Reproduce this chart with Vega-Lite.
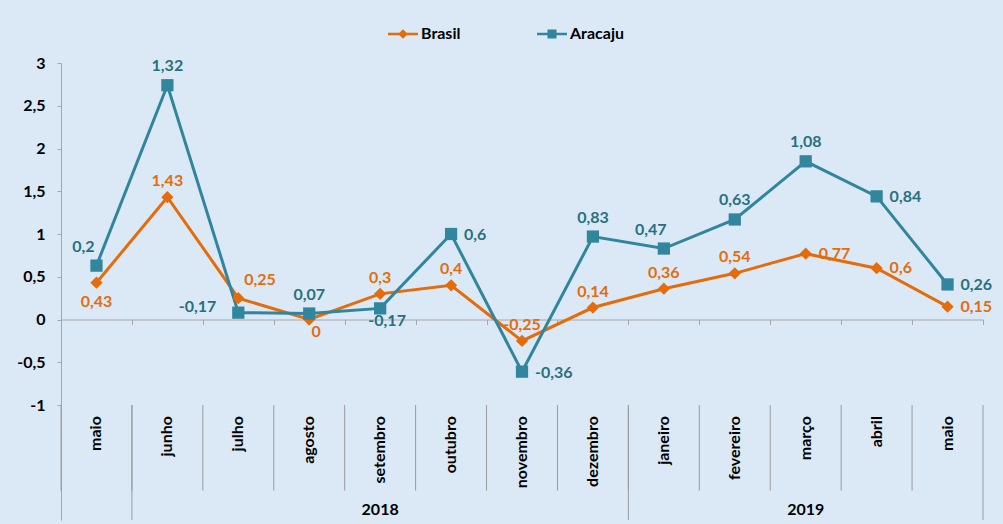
{
  "$schema": "https://vega.github.io/schema/vega-lite/v6.json",
  "width": 922,
  "height": 457,
  "autosize": {"type": "none"},
  "padding": {"left": 61, "top": 63, "right": 20, "bottom": 4},
  "background": "#dbe9f6",
  "config": {"view": {"stroke": null}, "font": "Lato", "text": {"font": "Lato", "fontSize": 16, "fontWeight": "bold"}},
  "datasets": {
    "d": [
      {"id": "2018-05", "mes": "maio", "ano": "2018", "serie": "Brasil", "valor": 0.43, "rotulo": "0,43"},
      {"id": "2018-06", "mes": "junho", "ano": "2018", "serie": "Brasil", "valor": 1.43, "rotulo": "1,43"},
      {"id": "2018-07", "mes": "julho", "ano": "2018", "serie": "Brasil", "valor": 0.25, "rotulo": "0,25"},
      {"id": "2018-08", "mes": "agosto", "ano": "2018", "serie": "Brasil", "valor": 0, "rotulo": "0"},
      {"id": "2018-09", "mes": "setembro", "ano": "2018", "serie": "Brasil", "valor": 0.3, "rotulo": "0,3"},
      {"id": "2018-10", "mes": "outubro", "ano": "2018", "serie": "Brasil", "valor": 0.4, "rotulo": "0,4"},
      {"id": "2018-11", "mes": "novembro", "ano": "2018", "serie": "Brasil", "valor": -0.25, "rotulo": "-0,25"},
      {"id": "2018-12", "mes": "dezembro", "ano": "2018", "serie": "Brasil", "valor": 0.14, "rotulo": "0,14"},
      {"id": "2019-01", "mes": "janeiro", "ano": "2019", "serie": "Brasil", "valor": 0.36, "rotulo": "0,36"},
      {"id": "2019-02", "mes": "fevereiro", "ano": "2019", "serie": "Brasil", "valor": 0.54, "rotulo": "0,54"},
      {"id": "2019-03", "mes": "março", "ano": "2019", "serie": "Brasil", "valor": 0.77, "rotulo": "0,77"},
      {"id": "2019-04", "mes": "abril", "ano": "2019", "serie": "Brasil", "valor": 0.6, "rotulo": "0,6"},
      {"id": "2019-05", "mes": "maio", "ano": "2019", "serie": "Brasil", "valor": 0.15, "rotulo": "0,15"},
      {"id": "2018-05", "mes": "maio", "ano": "2018", "serie": "Aracaju", "valor": 0.63, "rotulo": "0,2"},
      {"id": "2018-06", "mes": "junho", "ano": "2018", "serie": "Aracaju", "valor": 2.74, "rotulo": "1,32"},
      {"id": "2018-07", "mes": "julho", "ano": "2018", "serie": "Aracaju", "valor": 0.08, "rotulo": "-0,17"},
      {"id": "2018-08", "mes": "agosto", "ano": "2018", "serie": "Aracaju", "valor": 0.07, "rotulo": "0,07"},
      {"id": "2018-09", "mes": "setembro", "ano": "2018", "serie": "Aracaju", "valor": 0.13, "rotulo": "-0,17"},
      {"id": "2018-10", "mes": "outubro", "ano": "2018", "serie": "Aracaju", "valor": 1.0, "rotulo": "0,6"},
      {"id": "2018-11", "mes": "novembro", "ano": "2018", "serie": "Aracaju", "valor": -0.61, "rotulo": "-0,36"},
      {"id": "2018-12", "mes": "dezembro", "ano": "2018", "serie": "Aracaju", "valor": 0.97, "rotulo": "0,83"},
      {"id": "2019-01", "mes": "janeiro", "ano": "2019", "serie": "Aracaju", "valor": 0.83, "rotulo": "0,47"},
      {"id": "2019-02", "mes": "fevereiro", "ano": "2019", "serie": "Aracaju", "valor": 1.17, "rotulo": "0,63"},
      {"id": "2019-03", "mes": "março", "ano": "2019", "serie": "Aracaju", "valor": 1.85, "rotulo": "1,08"},
      {"id": "2019-04", "mes": "abril", "ano": "2019", "serie": "Aracaju", "valor": 1.44, "rotulo": "0,84"},
      {"id": "2019-05", "mes": "maio", "ano": "2019", "serie": "Aracaju", "valor": 0.41, "rotulo": "0,26"}
    ]
  },
  "data": {"name": "d"},
  "encoding": {
    "x": {"field": "id", "type": "nominal", "sort": null, "scale": {"type": "band", "paddingInner": 0, "paddingOuter": 0},
      "axis": {"orient": "bottom", "offset": -200.5, "labels": false, "title": null, "domainColor": "#a6a6a6", "tickColor": "#a6a6a6", "tickSize": 5, "tickBand": "extent", "grid": false}},
    "y": {"field": "valor", "type": "quantitative", "scale": {"domain": [-2.345, 3], "nice": false, "zero": false},
      "axis": {"title": null, "values": [-1, -0.5, 0, 0.5, 1, 1.5, 2, 2.5, 3], "labelExpr": "replace(replace(format(datum.value, '~g'), '.', ','), '−', '-')", "labelFont": "Lato", "labelFontSize": 16, "labelFontWeight": "bold", "labelColor": "#000000", "domainColor": "#a6a6a6", "tickColor": "#a6a6a6", "tickSize": 4, "labelPadding": 12, "grid": false}}
  },
  "layer": [
    {
      "transform": [{"filter": "datum.serie == 'Brasil'"}],
      "mark": {"type": "rule", "color": "#9a9a9a", "strokeWidth": 1},
      "encoding": {
        "x": {"field": "id", "type": "nominal", "sort": null, "bandPosition": 0},
        "y": {"datum": -1},
        "y2": {"datum": -2}
      }
    },
    {
      "transform": [{"filter": "datum.serie == 'Brasil' && (datum.id == '2018-06' || datum.id == '2019-01')"}],
      "mark": {"type": "rule", "color": "#9a9a9a", "strokeWidth": 1},
      "encoding": {
        "x": {"field": "id", "type": "nominal", "sort": null, "bandPosition": 0},
        "y": {"datum": -1},
        "y2": {"datum": -2.345}
      }
    },
    {
      "transform": [{"filter": "datum.serie == 'Brasil' && datum.id == '2019-05'"}],
      "mark": {"type": "rule", "color": "#9a9a9a", "strokeWidth": 1},
      "encoding": {
        "x": {"field": "id", "type": "nominal", "sort": null, "bandPosition": 1},
        "y": {"datum": -1},
        "y2": {"datum": -2.345}
      }
    },
    {
      "transform": [{"filter": "datum.serie == 'Brasil'"}],
      "mark": {"type": "text", "angle": 270, "align": "right", "baseline": "middle", "fontSize": 16, "fontWeight": "bold", "color": "#000000"},
      "encoding": {
        "y": {"datum": -1.13},
        "text": {"field": "mes"}
      }
    },
    {
      "transform": [{"filter": "datum.serie == 'Brasil' && (datum.id == '2018-09' || datum.id == '2019-03')"}],
      "mark": {"type": "text", "align": "center", "baseline": "middle", "fontSize": 16, "fontWeight": "bold", "color": "#000000"},
      "encoding": {
        "y": {"datum": -2.228},
        "text": {"field": "ano"}
      }
    },
    {
      "transform": [{"filter": "datum.serie == 'Brasil'"}],
      "mark": {"type": "line", "strokeWidth": 3, "color": "#E46C0A"},
      "encoding": {}
    },
    {
      "transform": [{"filter": "datum.serie == 'Aracaju'"}],
      "mark": {"type": "line", "strokeWidth": 3, "color": "#31859C"},
      "encoding": {}
    },
    {
      "transform": [{"filter": "datum.serie == 'Brasil'"}],
      "mark": {"type": "point", "shape": "diamond", "filled": true, "size": 150, "opacity": 1, "color": "#E46C0A"}
    },
    {
      "transform": [{"filter": "datum.serie == 'Aracaju'"}],
      "mark": {"type": "point", "shape": "square", "filled": true, "size": 150, "opacity": 1, "color": "#31859C"}
    },
    {
      "mark": {"type": "point", "filled": true, "opacity": 0},
      "encoding": {
        "color": {"field": "serie", "type": "nominal", "scale": {"domain": ["Brasil", "Aracaju"], "range": ["#E46C0A", "#31859C"]},
          "legend": {"orient": "none", "legendX": 327, "legendY": -44, "direction": "horizontal", "title": null, "symbolSize": 900, "symbolStrokeWidth": 0, "symbolOpacity": 1, "labelFont": "Lato", "labelFontSize": 16, "labelFontWeight": "bold", "labelColor": "#000000", "columnPadding": 76, "labelOffset": 3}},
        "shape": {"field": "serie", "type": "nominal",
          "scale": {"domain": ["Brasil", "Aracaju"], "range": ["M-1,-0.09H1V0.09H-1Z M-0.32,0L0,-0.32L0.32,0L0,0.32Z", "M-1,-0.09H1V0.09H-1Z M-0.3,-0.3H0.3V0.3H-0.3Z"]},
          "legend": {"orient": "none", "legendX": 327, "legendY": -44, "direction": "horizontal", "title": null, "symbolSize": 900, "symbolStrokeWidth": 0, "symbolOpacity": 1, "labelFont": "Lato", "labelFontSize": 16, "labelFontWeight": "bold", "labelColor": "#000000", "columnPadding": 76, "labelOffset": 3}}
      }
    },
    {
      "transform": [{"filter": "datum.serie == 'Brasil' && indexof(['2018-06','2018-09','2018-10','2018-11','2018-12','2019-01','2019-02'], datum.id) >= 0"}],
      "mark": {"type": "text", "align": "center", "baseline": "middle", "dy": -16, "color": "#E46C0A"},
      "encoding": {"text": {"field": "rotulo"}}
    },
    {
      "transform": [{"filter": "datum.serie == 'Brasil' && indexof(['2019-03','2019-04','2019-05'], datum.id) >= 0"}],
      "mark": {"type": "text", "align": "left", "baseline": "middle", "dx": 13, "color": "#E46C0A"},
      "encoding": {"text": {"field": "rotulo"}}
    },
    {
      "transform": [{"filter": "datum.serie == 'Brasil' && datum.id == '2018-05'"}],
      "mark": {"type": "text", "align": "center", "baseline": "middle", "dy": 19, "color": "#E46C0A"},
      "encoding": {"text": {"field": "rotulo"}}
    },
    {
      "transform": [{"filter": "datum.serie == 'Brasil' && datum.id == '2018-07'"}],
      "mark": {"type": "text", "align": "left", "baseline": "middle", "dx": 6, "dy": -18, "color": "#E46C0A"},
      "encoding": {"text": {"field": "rotulo"}}
    },
    {
      "transform": [{"filter": "datum.serie == 'Brasil' && datum.id == '2018-08'"}],
      "mark": {"type": "text", "align": "center", "baseline": "middle", "dx": 7, "dy": 12, "color": "#E46C0A"},
      "encoding": {"text": {"field": "rotulo"}}
    },
    {
      "transform": [{"filter": "datum.serie == 'Aracaju' && indexof(['2018-06','2018-08','2018-12','2019-02','2019-03'], datum.id) >= 0"}],
      "mark": {"type": "text", "align": "center", "baseline": "middle", "dy": -19, "color": "#2A6F80"},
      "encoding": {"text": {"field": "rotulo"}}
    },
    {
      "transform": [{"filter": "datum.serie == 'Aracaju' && indexof(['2018-05','2019-01'], datum.id) >= 0"}],
      "mark": {"type": "text", "align": "center", "baseline": "middle", "dx": -13, "dy": -19, "color": "#2A6F80"},
      "encoding": {"text": {"field": "rotulo"}}
    },
    {
      "transform": [{"filter": "datum.serie == 'Aracaju' && indexof(['2018-10','2018-11','2019-04','2019-05'], datum.id) >= 0"}],
      "mark": {"type": "text", "align": "left", "baseline": "middle", "dx": 13, "dy": 1, "color": "#2A6F80"},
      "encoding": {"text": {"field": "rotulo"}}
    },
    {
      "transform": [{"filter": "datum.serie == 'Aracaju' && datum.id == '2018-07'"}],
      "mark": {"type": "text", "align": "right", "baseline": "middle", "dx": -22, "dy": -6, "color": "#2A6F80"},
      "encoding": {"text": {"field": "rotulo"}}
    },
    {
      "transform": [{"filter": "datum.serie == 'Aracaju' && datum.id == '2018-09'"}],
      "mark": {"type": "text", "align": "center", "baseline": "middle", "dx": 7, "dy": 13, "color": "#2A6F80"},
      "encoding": {"text": {"field": "rotulo"}}
    }
  ]
}
